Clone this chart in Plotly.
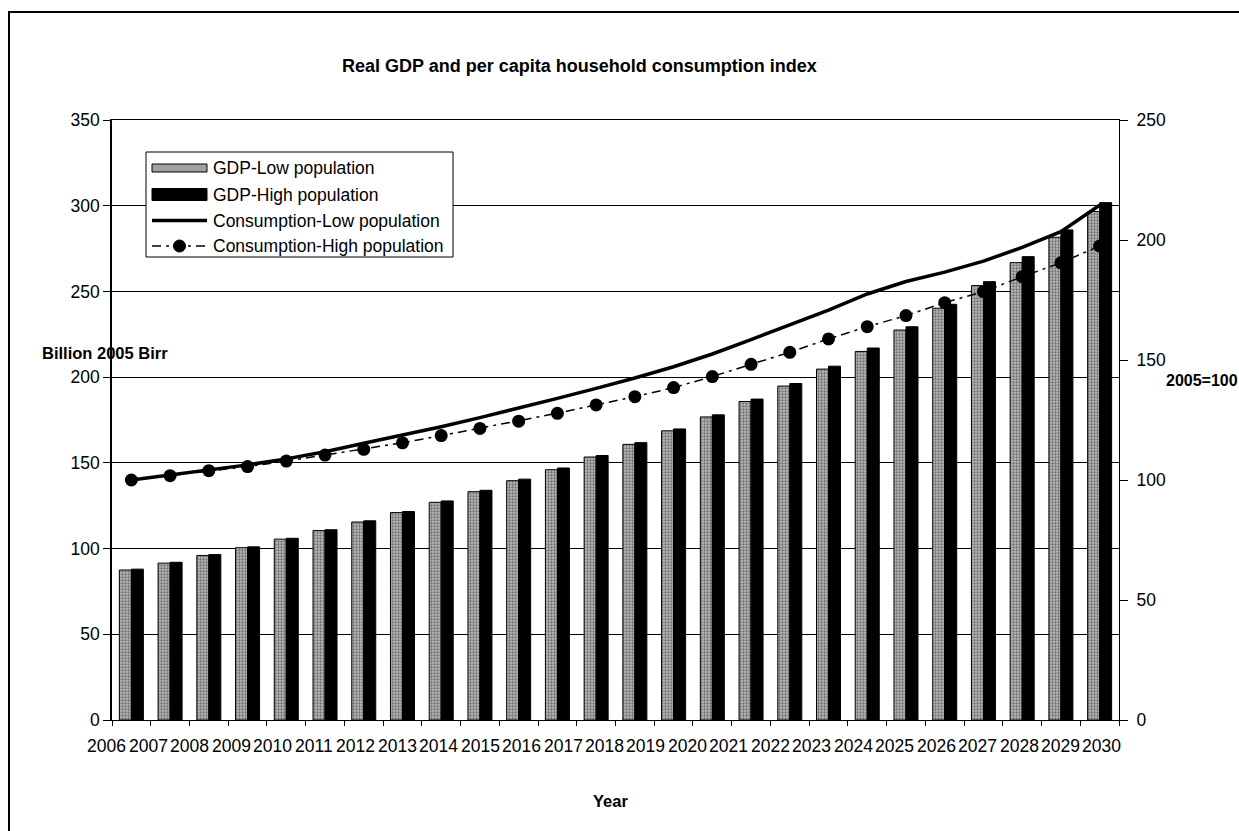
import numpy as np
import plotly.graph_objects as go

# ---- data -------------------------------------------------------------
years = [2005, 2006, 2007, 2008, 2009, 2010, 2011, 2012, 2013, 2014, 2015, 2016, 2017,
         2018, 2019, 2020, 2021, 2022, 2023, 2024, 2025, 2026, 2027, 2028, 2029, 2030]

# Real GDP, billion 2005 Birr
gdp_low = [87.5, 91.5, 96.0, 100.5, 105.5, 110.5, 115.5, 121.0, 127.0, 133.2, 139.6, 146.0,
           153.4, 160.8, 168.7, 176.8, 185.8, 194.8, 204.7, 215.0, 227.5, 240.2, 253.4,
           266.8, 281.6, 296.6]
gdp_high = [88.0, 92.0, 96.5, 101.0, 106.0, 111.0, 116.2, 121.6, 127.8, 134.0, 140.5, 147.0,
            154.3, 161.8, 169.8, 178.0, 187.2, 196.3, 206.4, 217.0, 229.4, 242.5, 255.7,
            270.3, 285.9, 301.8]

# Per capita household consumption index, 2005=100
cons_low = [100.0, 102.0, 104.2, 106.3, 108.8, 111.8, 115.3, 118.7, 122.2, 126.0, 129.9,
            134.0, 138.2, 142.5, 147.2, 152.5, 158.5, 164.5, 170.8, 177.5, 182.7, 186.6,
            191.2, 196.9, 203.5, 214.5]
cons_high = [100.0, 101.8, 103.9, 105.6, 107.9, 110.4, 112.8, 115.5, 118.5, 121.5, 124.5,
             127.8, 131.3, 134.7, 138.5, 143.1, 148.2, 153.2, 158.8, 163.9, 168.5, 173.9,
             178.5, 184.7, 190.5, 197.5]

year_labels = ["2006", "2007", "2008", "2009", "2010", "2011", "2012", "2013", "2014",
               "2015", "2016", "2017", "2018", "2019", "2020", "2021", "2022", "2023",
               "2024", "2025", "2026", "2027", "2028", "2029", "2030"]

series_names = ["GDP-Low population", "GDP-High population",
                "Consumption-Low population", "Consumption-High population"]

# ---- layout helpers ---------------------------------------------------
W, H = 1239, 831
L, R, T, B = 112, 1119, 120, 720
FONT = "Liberation Sans, Arial, sans-serif"
X0, X1 = 2004.5, 2030.5


def xp(px):
    return (px - L) / (R - L)


def yp(py):
    return (B - py) / (B - T)


fig = go.Figure()

fig.add_trace(go.Bar(
    x=years, y=gdp_low, name=series_names[0], showlegend=False,
    marker=dict(color="#a8a8a8", line=dict(color="black", width=1),
                pattern=dict(shape=".", fgcolor="#222222", bgcolor="#bababa",
                             size=3, solidity=0.45)),
))
fig.add_trace(go.Bar(
    x=years, y=gdp_high, name=series_names[1], showlegend=False,
    marker=dict(color="black", line=dict(color="black", width=1)),
))
fig.add_trace(go.Scatter(
    x=years, y=cons_low, name=series_names[2], yaxis="y2", mode="lines",
    showlegend=False, line=dict(color="black", width=3.5),
))
fig.add_trace(go.Scatter(
    x=years, y=cons_high, name=series_names[3], yaxis="y2", mode="lines+markers",
    showlegend=False, line=dict(color="black", width=1.5, dash="9px,5px,3px,5px"),
    marker=dict(symbol="circle", size=13, color="black"),
))

fig.update_layout(
    width=W, height=H,
    margin=dict(l=L, r=W - R, t=T, b=H - B, pad=0),
    paper_bgcolor="white", plot_bgcolor="white",
    font=dict(family=FONT, color="black", size=17),
    barmode="group", bargap=0.38, bargroupgap=0.0,
    xaxis=dict(
        range=[X0, X1], showgrid=False, zeroline=False,
        showline=True, linecolor="black", linewidth=1, mirror=True,
        showticklabels=False, ticks="",
        minor=dict(tickmode="array", tickvals=[X0 + j for j in range(27)],
                   ticks="outside", ticklen=5, tickcolor="black", tickwidth=1,
                   showgrid=False),
    ),
    yaxis=dict(
        range=[0, 350], dtick=50, showgrid=True, gridcolor="black", gridwidth=1,
        zeroline=False, showline=True, linecolor="black", linewidth=1.5,
        ticks="outside", ticklen=7, tickcolor="black", tickfont=dict(size=17.5),
    ),
    yaxis2=dict(
        range=[0, 250], dtick=50, overlaying="y", side="right", showgrid=False,
        zeroline=False, showline=True, linecolor="black", linewidth=1,
        ticks="outside", ticklen=8, tickcolor="black", tickfont=dict(size=17.5),
        ticklabelstandoff=5,
    ),
)

shapes = []
annotations = []

# year labels are spread evenly along the axis, slightly wider than the categories
label_pos = np.linspace(2004.37, 2030.06, len(year_labels))
for pos, lab in zip(label_pos, year_labels):
    annotations.append(dict(text=lab, xref="paper", yref="paper",
                            x=float((pos - X0) / (X1 - X0)), y=yp(746),
                            xanchor="center", yanchor="middle", showarrow=False,
                            font=dict(size=17.5)))

# outer chart frame (runs off the page to the right and bottom)
shapes.append(dict(type="rect", xref="paper", yref="paper",
                   x0=xp(9), x1=xp(1300), y0=yp(900), y1=yp(12),
                   line=dict(color="black", width=2), fillcolor="rgba(0,0,0,0)",
                   layer="below"))

# title and axis captions
annotations.append(dict(text="<b>Real GDP and per capita household consumption index</b>",
                        xref="paper", yref="paper", x=xp(579), y=yp(66),
                        xanchor="center", yanchor="middle",
                        showarrow=False, font=dict(size=18)))
annotations.append(dict(text="<b>Billion 2005 Birr</b>", xref="paper", yref="paper",
                        x=xp(40), y=yp(353), xanchor="left", yanchor="middle",
                        showarrow=False, font=dict(size=16.5)))
annotations.append(dict(text="<b>2005=100</b>", xref="paper", yref="paper",
                        x=xp(1164), y=yp(380), xanchor="left", yanchor="middle",
                        showarrow=False, font=dict(size=16)))
annotations.append(dict(text="<b>Year</b>", xref="paper", yref="paper",
                        x=xp(610), y=yp(801), xanchor="center", yanchor="middle",
                        showarrow=False, font=dict(size=16.5)))

# legend box
shapes.append(dict(type="rect", xref="paper", yref="paper",
                   x0=xp(146), x1=xp(453), y0=yp(257), y1=yp(152),
                   line=dict(color="black", width=1), fillcolor="white"))
rows = [168, 194.5, 220.5, 246]
sx0, sx1 = 152, 207
shapes.append(dict(type="rect", xref="paper", yref="paper",
                   x0=xp(sx0), x1=xp(sx1), y0=yp(rows[0] + 4), y1=yp(rows[0] - 4),
                   line=dict(color="black", width=1), fillcolor="#a0a0a0"))
shapes.append(dict(type="rect", xref="paper", yref="paper",
                   x0=xp(sx0), x1=xp(sx1), y0=yp(rows[1] + 6), y1=yp(rows[1] - 6),
                   line=dict(color="black", width=1), fillcolor="black"))
shapes.append(dict(type="line", xref="paper", yref="paper",
                   x0=xp(sx0), x1=xp(sx1), y0=yp(rows[2]), y1=yp(rows[2]),
                   line=dict(color="black", width=3.5)))
shapes.append(dict(type="line", xref="paper", yref="paper",
                   x0=xp(sx0), x1=xp(sx1), y0=yp(rows[3]), y1=yp(rows[3]),
                   line=dict(color="black", width=1.5, dash="9px,5px,3px,5px")))
shapes.append(dict(type="circle", xref="paper", yref="paper",
                   x0=xp(173.5), x1=xp(185.5), y0=yp(rows[3] + 6), y1=yp(rows[3] - 6),
                   line=dict(color="black", width=1), fillcolor="black"))
for name, ry in zip(series_names, rows):
    annotations.append(dict(text=name, xref="paper", yref="paper", x=xp(211), y=yp(ry),
                            xanchor="left", yanchor="middle", showarrow=False,
                            font=dict(size=17.5)))

fig.update_layout(shapes=shapes, annotations=annotations)

fig.write_html("out.html")
